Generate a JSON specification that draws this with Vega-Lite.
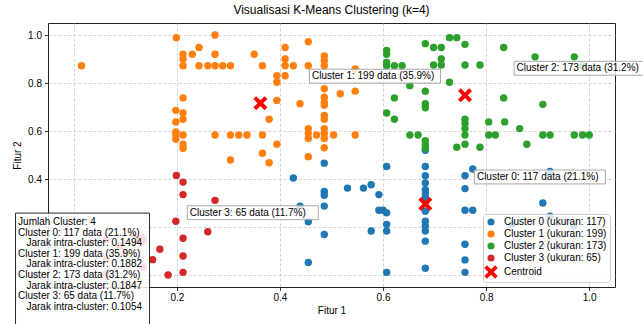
{
  "$schema": "https://vega.github.io/schema/vega-lite/v6.json",
  "width": 567,
  "height": 264,
  "autosize": {"type": "none"},
  "padding": {"left": 48, "top": 23, "right": 28, "bottom": 37},
  "config": {
    "font": "Liberation Sans",
    "view": {"stroke": "#222222", "strokeWidth": 1},
    "axis": {
      "labelFont": "Liberation Sans", "labelFontSize": 10, "labelColor": "#000000",
      "titleFont": "Liberation Sans", "titleFontSize": 10, "titleFontWeight": "normal", "titleColor": "#000000",
      "tickColor": "#000000", "tickSize": 3.5, "tickWidth": 0.8, "domain": false,
      "gridColor": "#c8c8c8", "gridDash": [3, 2], "gridWidth": 0.8
    }
  },
  "title": {"text": "Visualisasi K-Means Clustering (k=4)", "font": "Liberation Sans", "fontSize": 12, "fontWeight": "normal", "color": "#000000", "offset": 6},
  "datasets": {
    "clusters": [
      {"k": 0, "series": "Cluster 0 (ukuran: 117)"},
      {"k": 1, "series": "Cluster 1 (ukuran: 199)"},
      {"k": 2, "series": "Cluster 2 (ukuran: 173)"},
      {"k": 3, "series": "Cluster 3 (ukuran: 65)"}
    ],
    "points": [
      {"x":0.486,"y":0.466,"k":0},{"x":0.426,"y":0.404,"k":0},{"x":0.486,"y":0.348,"k":0},{"x":0.486,"y":0.332,"k":0},{"x":0.486,"y":0.287,"k":0},
      {"x":0.531,"y":0.362,"k":0},{"x":0.562,"y":0.362,"k":0},{"x":0.577,"y":0.376,"k":0},{"x":0.592,"y":0.335,"k":0},{"x":0.592,"y":0.27,"k":0},
      {"x":0.6,"y":0.27,"k":0},{"x":0.607,"y":0.452,"k":0},{"x":0.607,"y":0.259,"k":0},{"x":0.607,"y":0.211,"k":0},{"x":0.607,"y":0.183,"k":0},
      {"x":0.577,"y":0.183,"k":0},{"x":0.607,"y":0.011,"k":0},{"x":0.439,"y":0.287,"k":0},{"x":0.455,"y":0.222,"k":0},{"x":0.486,"y":0.169,"k":0},
      {"x":0.455,"y":0.052,"k":0},
      {"x":0.682,"y":0.52,"k":0},{"x":0.682,"y":0.452,"k":0},{"x":0.682,"y":0.414,"k":0},{"x":0.682,"y":0.383,"k":0},{"x":0.682,"y":0.355,"k":0},
      {"x":0.682,"y":0.342,"k":0},{"x":0.682,"y":0.325,"k":0},{"x":0.682,"y":0.307,"k":0},{"x":0.682,"y":0.266,"k":0},{"x":0.682,"y":0.224,"k":0},
      {"x":0.682,"y":0.204,"k":0},{"x":0.682,"y":0.183,"k":0},{"x":0.682,"y":0.141,"k":0},{"x":0.682,"y":0.028,"k":0},
      {"x":0.759,"y":0.414,"k":0},{"x":0.774,"y":0.442,"k":0},{"x":0.759,"y":0.36,"k":0},{"x":0.759,"y":0.27,"k":0},{"x":0.774,"y":0.27,"k":0},
      {"x":0.759,"y":0.128,"k":0},{"x":0.759,"y":0.063,"k":0},{"x":0.759,"y":0.011,"k":0},
      {"x":0.924,"y":0.431,"k":0},{"x":0.91,"y":0.3,"k":0},{"x":0.924,"y":0.245,"k":0},{"x":0.85,"y":0.211,"k":0},{"x":0.97,"y":0.204,"k":0},

      {"x":0.015,"y":0.872,"k":1},{"x":0.199,"y":0.989,"k":1},{"x":0.274,"y":1.0,"k":1},{"x":0.212,"y":0.92,"k":1},{"x":0.212,"y":0.9,"k":1},
      {"x":0.212,"y":0.872,"k":1},{"x":0.23,"y":0.92,"k":1},{"x":0.243,"y":0.948,"k":1},{"x":0.243,"y":0.872,"k":1},{"x":0.26,"y":0.872,"k":1},
      {"x":0.274,"y":0.872,"k":1},{"x":0.289,"y":0.872,"k":1},{"x":0.304,"y":0.872,"k":1},{"x":0.274,"y":0.92,"k":1},{"x":0.35,"y":0.92,"k":1},
      {"x":0.366,"y":0.872,"k":1},{"x":0.394,"y":0.83,"k":1},{"x":0.394,"y":0.803,"k":1},{"x":0.41,"y":0.83,"k":1},{"x":0.41,"y":0.948,"k":1},
      {"x":0.455,"y":0.972,"k":1},{"x":0.41,"y":0.9,"k":1},{"x":0.41,"y":0.872,"k":1},{"x":0.426,"y":0.872,"k":1},{"x":0.455,"y":0.872,"k":1},
      {"x":0.486,"y":0.913,"k":1},{"x":0.486,"y":0.893,"k":1},{"x":0.486,"y":0.872,"k":1},{"x":0.546,"y":0.858,"k":1},
      {"x":0.212,"y":0.738,"k":1},{"x":0.198,"y":0.686,"k":1},{"x":0.212,"y":0.675,"k":1},{"x":0.212,"y":0.649,"k":1},{"x":0.198,"y":0.638,"k":1},
      {"x":0.198,"y":0.596,"k":1},{"x":0.198,"y":0.583,"k":1},{"x":0.198,"y":0.566,"k":1},{"x":0.212,"y":0.583,"k":1},{"x":0.212,"y":0.545,"k":1},
      {"x":0.212,"y":0.528,"k":1},{"x":0.274,"y":0.583,"k":1},{"x":0.304,"y":0.583,"k":1},{"x":0.32,"y":0.583,"k":1},{"x":0.336,"y":0.583,"k":1},
      {"x":0.366,"y":0.583,"k":1},{"x":0.304,"y":0.479,"k":1},{"x":0.366,"y":0.507,"k":1},{"x":0.379,"y":0.468,"k":1},{"x":0.379,"y":0.649,"k":1},
      {"x":0.394,"y":0.727,"k":1},{"x":0.394,"y":0.545,"k":1},
      {"x":0.439,"y":0.714,"k":1},{"x":0.486,"y":0.776,"k":1},{"x":0.486,"y":0.741,"k":1},{"x":0.486,"y":0.72,"k":1},{"x":0.486,"y":0.707,"k":1},
      {"x":0.517,"y":0.755,"k":1},{"x":0.546,"y":0.766,"k":1},{"x":0.486,"y":0.665,"k":1},{"x":0.486,"y":0.649,"k":1},{"x":0.486,"y":0.61,"k":1},
      {"x":0.486,"y":0.59,"k":1},{"x":0.486,"y":0.569,"k":1},{"x":0.486,"y":0.53,"k":1},{"x":0.455,"y":0.61,"k":1},{"x":0.455,"y":0.59,"k":1},
      {"x":0.455,"y":0.569,"k":1},{"x":0.471,"y":0.583,"k":1},{"x":0.504,"y":0.583,"k":1},{"x":0.546,"y":0.583,"k":1},{"x":0.455,"y":0.493,"k":1},

      {"x":0.607,"y":0.936,"k":2},{"x":0.607,"y":0.92,"k":2},{"x":0.607,"y":0.886,"k":2},{"x":0.607,"y":0.872,"k":2},{"x":0.622,"y":0.872,"k":2},
      {"x":0.637,"y":0.872,"k":2},{"x":0.682,"y":0.964,"k":2},{"x":0.698,"y":0.948,"k":2},{"x":0.713,"y":0.948,"k":2},{"x":0.729,"y":0.989,"k":2},
      {"x":0.743,"y":0.989,"k":2},{"x":0.759,"y":0.961,"k":2},{"x":0.713,"y":0.9,"k":2},{"x":0.698,"y":0.875,"k":2},{"x":0.713,"y":0.875,"k":2},
      {"x":0.759,"y":0.875,"k":2},{"x":0.788,"y":0.875,"k":2},{"x":0.834,"y":0.948,"k":2},{"x":0.895,"y":0.909,"k":2},{"x":0.971,"y":0.909,"k":2},
      {"x":0.987,"y":0.872,"k":2},{"x":0.729,"y":0.803,"k":2},{"x":0.652,"y":0.789,"k":2},{"x":0.682,"y":0.766,"k":2},{"x":0.622,"y":0.738,"k":2},
      {"x":0.682,"y":0.714,"k":2},{"x":0.682,"y":0.697,"k":2},{"x":0.834,"y":0.738,"k":2},{"x":0.91,"y":0.711,"k":2},{"x":0.607,"y":0.675,"k":2},
      {"x":0.622,"y":0.649,"k":2},{"x":0.759,"y":0.649,"k":2},{"x":0.759,"y":0.631,"k":2},{"x":0.759,"y":0.61,"k":2},{"x":0.759,"y":0.583,"k":2},
      {"x":0.805,"y":0.638,"k":2},{"x":0.836,"y":0.638,"k":2},{"x":0.652,"y":0.583,"k":2},{"x":0.668,"y":0.583,"k":2},{"x":0.682,"y":0.56,"k":2},
      {"x":0.682,"y":0.542,"k":2},{"x":0.682,"y":0.528,"k":2},{"x":0.743,"y":0.532,"k":2},{"x":0.759,"y":0.545,"k":2},{"x":0.788,"y":0.532,"k":2},
      {"x":0.805,"y":0.583,"k":2},{"x":0.818,"y":0.583,"k":2},{"x":0.865,"y":0.61,"k":2},{"x":0.91,"y":0.583,"k":2},{"x":0.924,"y":0.583,"k":2},
      {"x":0.879,"y":0.545,"k":2},{"x":0.971,"y":0.583,"k":2},{"x":0.987,"y":0.583,"k":2},{"x":1.0,"y":0.583,"k":2},

      {"x":0.199,"y":0.415,"k":3},{"x":0.212,"y":0.387,"k":3},{"x":0.212,"y":0.335,"k":3},{"x":0.274,"y":0.311,"k":3},{"x":0.198,"y":0.224,"k":3},
      {"x":0.26,"y":0.18,"k":3},{"x":0.212,"y":0.153,"k":3},{"x":0.212,"y":0.079,"k":3},{"x":0.212,"y":0.011,"k":3},{"x":0.183,"y":0.0,"k":3},
      {"x":0.167,"y":0.107,"k":3},{"x":0.153,"y":0.064,"k":3},{"x":0.063,"y":0.149,"k":3},{"x":0.135,"y":0.149,"k":3},{"x":0.031,"y":0.135,"k":3},
      {"x":0.089,"y":0.121,"k":3},{"x":0.063,"y":0.066,"k":3},{"x":0.135,"y":0.032,"k":3},{"x":0.063,"y":0.004,"k":3},{"x":0.1,"y":0.09,"k":3}
    ],
    "centroids": [
      {"x": 0.682, "y": 0.296, "series": "Centroid", "label": "Cluster 0: 117 data (21.1%)"},
      {"x": 0.362, "y": 0.716, "series": "Centroid", "label": "Cluster 1: 199 data (35.9%)"},
      {"x": 0.759, "y": 0.749, "series": "Centroid", "label": "Cluster 2: 173 data (31.2%)"},
      {"x": 0.125, "y": 0.147, "series": "Centroid", "label": "Cluster 3: 65 data (11.7%)"}
    ],
    "info": [
      {"text": "Jumlah Cluster: 4\nCluster 0: 117 data (21.1%)\n\u200b\u00a0\u00a0\u00a0Jarak intra-cluster: 0.1494\nCluster 1: 199 data (35.9%)\n\u200b\u00a0\u00a0\u00a0Jarak intra-cluster: 0.1882\nCluster 2: 173 data (31.2%)\n\u200b\u00a0\u00a0\u00a0Jarak intra-cluster: 0.1847\nCluster 3: 65 data (11.7%)\n\u200b\u00a0\u00a0\u00a0Jarak intra-cluster: 0.1054"}
    ]
  },
  "layer": [
    {
      "data": {"name": "points"},
      "transform": [{"lookup": "k", "from": {"data": {"name": "clusters"}, "key": "k", "fields": ["series"]}}],
      "mark": {"type": "point", "filled": true, "opacity": 1, "size": 55},
      "encoding": {
        "x": {"field": "x", "type": "quantitative", "scale": {"domain": [-0.05, 1.05], "nice": false, "zero": false},
              "axis": {"title": "Fitur 1", "values": [0, 0.2, 0.4, 0.6, 0.8, 1.0], "format": ".1f", "labelPadding": 2, "titlePadding": 3}},
        "y": {"field": "y", "type": "quantitative", "scale": {"domain": [-0.05, 1.05], "nice": false, "zero": false},
              "axis": {"title": "Fitur 2", "values": [0, 0.2, 0.4, 0.6, 0.8, 1.0], "format": ".1f", "labelPadding": 3, "titlePadding": 5}},
        "color": {"field": "series", "type": "nominal",
                  "scale": {"domain": ["Cluster 0 (ukuran: 117)", "Cluster 1 (ukuran: 199)", "Cluster 2 (ukuran: 173)", "Cluster 3 (ukuran: 65)", "Centroid"],
                            "range": ["#1f77b4", "#ff7f0e", "#2ca02c", "#d62728", "#ff0000"]},
                  "legend": {"title": null, "orient": "bottom-right", "offset": 5, "padding": 3, "fillColor": "rgba(255,255,255,0.8)",
                             "strokeColor": "#cccccc", "cornerRadius": 3, "labelFont": "Liberation Sans", "labelFontSize": 10,
                             "labelColor": "#000000", "labelOffset": 8, "rowPadding": 2, "symbolSize": 50, "symbolStrokeWidth": 0}},
        "shape": {"field": "series", "type": "nominal",
                  "scale": {"domain": ["Cluster 0 (ukuran: 117)", "Cluster 1 (ukuran: 199)", "Cluster 2 (ukuran: 173)", "Cluster 3 (ukuran: 65)", "Centroid"],
                            "range": ["circle", "circle", "circle", "circle", "M-1.14,-1.9L0,-0.76L1.14,-1.9L1.9,-1.14L0.76,0L1.9,1.14L1.14,1.9L0,0.76L-1.14,1.9L-1.9,1.14L-0.76,0L-1.9,-1.14Z"]}}
      }
    },
    {
      "data": {"name": "centroids"},
      "mark": {"type": "point", "filled": true, "opacity": 1, "size": 196, "color": "#ff0000",
               "shape": "M-0.6,-1L0,-0.4L0.6,-1L1,-0.6L0.4,0L1,0.6L0.6,1L0,0.4L-0.6,1L-1,0.6L-0.4,0L-1,-0.6Z"},
      "encoding": {
        "x": {"field": "x", "type": "quantitative"},
        "y": {"field": "y", "type": "quantitative"}
      }
    },
    {
      "data": {"name": "centroids"},
      "mark": {"type": "point", "shape": "M-1,-0.106H1V0.106H-1Z", "size": 17161, "filled": true, "fill": "#ffffff", "fillOpacity": 0.8,
               "stroke": "#a8a8a8", "strokeWidth": 1, "strokeOpacity": 1, "opacity": 1, "xOffset": 114.6, "yOffset": -27},
      "encoding": {
        "x": {"field": "x", "type": "quantitative"},
        "y": {"field": "y", "type": "quantitative"}
      }
    },
    {
      "data": {"name": "centroids"},
      "mark": {"type": "text", "align": "left", "baseline": "middle", "dx": 51.6, "dy": -27, "font": "Liberation Sans", "fontSize": 10, "color": "#000000"},
      "encoding": {
        "x": {"field": "x", "type": "quantitative"},
        "y": {"field": "y", "type": "quantitative"},
        "text": {"field": "label"}
      }
    },
    {
      "data": {"name": "info"},
      "mark": {"type": "rect", "fill": "#ffffff", "fillOpacity": 0.86, "stroke": "#111111", "strokeWidth": 0.9},
      "encoding": {
        "x": {"datum": -0.113, "type": "quantitative"},
        "x2": {"datum": 0.147},
        "y": {"datum": 0.258, "type": "quantitative"},
        "y2": {"datum": -0.24}
      }
    },
    {
      "data": {"name": "info"},
      "mark": {"type": "text", "align": "left", "baseline": "top", "lineBreak": "\n", "lineHeight": 10.6, "font": "Liberation Sans", "fontSize": 10, "color": "#000000"},
      "encoding": {
        "x": {"datum": -0.108, "type": "quantitative"},
        "y": {"datum": 0.242, "type": "quantitative"},
        "text": {"field": "text"}
      }
    }
  ]
}
